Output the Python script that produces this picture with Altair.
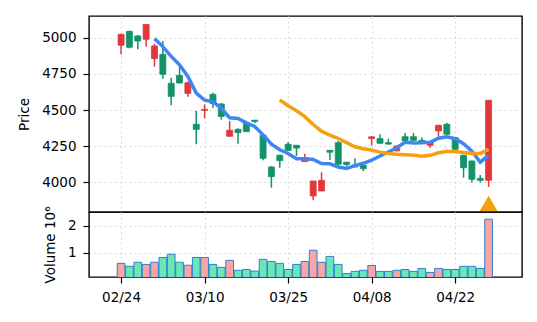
import altair as alt
import pandas as pd

dates = ["02/24", "02/25", "02/26", "02/27", "02/28", "03/03", "03/04", "03/05", "03/06", "03/07",
         "03/10", "03/11", "03/12", "03/13", "03/14", "03/17", "03/18", "03/19", "03/21", "03/24",
         "03/25", "03/26", "03/27", "03/28", "03/31", "04/01", "04/02", "04/03", "04/04", "04/07",
         "04/08", "04/09", "04/10", "04/11", "04/14", "04/15", "04/16", "04/17", "04/18", "04/21",
         "04/22", "04/23", "04/24", "04/25", "04/28"]
opens = [4948, 5044, 5012, 4989, 4856, 4885, 4685, 4740, 4616, 4402,
         4498, 4609, 4542, 4319, 4367, 4411, 4430, 4326, 4107, 4188,
         4264, 4257, 4144, 3907, 3941, 4222, 4275, 4140, 4121, 4119,
         4304, 4303, 4275, 4218, 4316, 4316, 4291, 4257, 4356, 4402,
         4310, 4188, 4148, 4029, 4015]
highs = [5028, 5048, 5019, 5095, 4959, 4977, 4724, 4805, 4696, 4494,
         4540, 4620, 4549, 4425, 4374, 4418, 4432, 4335, 4114, 4192,
         4280, 4259, 4199, 4010, 4070, 4224, 4287, 4142, 4167, 4128,
         4321, 4333, 4303, 4255, 4342, 4342, 4310, 4285, 4398, 4411,
         4312, 4192, 4152, 4052, 4570]
lows = [4885, 4927, 4920, 4938, 4800, 4717, 4533, 4685, 4593, 4264,
        4443, 4514, 4434, 4319, 4268, 4351, 4409, 4153, 3964, 4102,
        4218, 4183, 4144, 3877, 3941, 4155, 4121, 4110, 4105, 4079,
        4255, 4268, 4262, 4215, 4283, 4288, 4272, 4240, 4309, 4330,
        4225, 4033, 3999, 3999, 3969]
closes = [5023, 4934, 4977, 5092, 4943, 4747, 4595, 4687, 4689, 4367,
          4505, 4545, 4456, 4361, 4344, 4351, 4421, 4167, 4040, 4151,
          4222, 4238, 4171, 4010, 4015, 4209, 4126, 4125, 4107, 4095,
          4315, 4271, 4265, 4252, 4287, 4291, 4275, 4282, 4395, 4333,
          4229, 4102, 4022, 4015, 4568]
volumes = [600000, 490000, 640000, 560000, 640000, 820000, 940000, 640000, 530000, 820000,
           820000, 560000, 450000, 710000, 340000, 370000, 310000, 750000, 670000, 600000,
           370000, 560000, 670000, 1090000, 640000, 860000, 560000, 220000, 300000, 340000,
           520000, 300000, 300000, 340000, 370000, 300000, 410000, 260000, 410000, 370000,
           370000, 490000, 490000, 410000, 2250000]
tick_idx = [0, 10, 20, 30, 40]
price_ticks = [4000, 4250, 4500, 4750, 5000]
volume_ticks = [1000000, 2000000]
signal_idx = [44]
signal_price = [3855]

RED = "#e2373a"
GREEN = "#12936a"
PINK = "#f8a5a5"
MINT = "#6be6b6"
BLUE = "#3f86f2"
ORANGE = "#f5a00e"

df = pd.DataFrame({"idx": list(range(len(dates))), "date": dates, "open": opens,
                   "high": highs, "low": lows, "close": closes, "volume": volumes})
sig = pd.DataFrame({"idx": signal_idx, "price": signal_price})

xdom = [-3.24, 47.4]
label_expr = " : ".join(f"datum.value == {i} ? '{dates[i]}'" for i in tick_idx) + " : ''"

base = alt.Chart(df).transform_calculate(
    dir="datum.close >= datum.open ? 'up' : 'down'",
    vdir="datum.close >= datum.open ? 'vup' : 'vdown'"
)

x_price = alt.X("idx:Q", scale=alt.Scale(domain=xdom, nice=False, zero=False),
                axis=alt.Axis(values=tick_idx, labels=False, ticks=False, title=None, grid=True))
y_price = alt.Y("low:Q", scale=alt.Scale(domain=[3796, 5150], nice=False, zero=False),
                axis=alt.Axis(values=price_ticks, format="d", title="Price", grid=True))
cscale = alt.Scale(domain=["up", "down"], range=[RED, GREEN])

wicks = base.mark_rule(strokeWidth=1.5).encode(
    x=x_price, y=y_price, y2="high:Q",
    color=alt.Color("dir:N", scale=cscale, legend=None))
bodies = base.mark_bar(size=6, strokeWidth=0.8).encode(
    x="idx:Q", y="open:Q", y2="close:Q",
    color=alt.Color("dir:N", scale=cscale, legend=None),
    stroke=alt.Color("dir:N", scale=cscale, legend=None))
ma5 = alt.Chart(df).transform_window(
    ma="mean(close)", frame=[-4, 0], sort=[alt.SortField("idx")]
).transform_filter("datum.idx >= 4").mark_line(color=BLUE, strokeWidth=3.5).encode(
    x="idx:Q", y="ma:Q", order="idx:Q")
ma20 = alt.Chart(df).transform_window(
    ma="mean(close)", frame=[-19, 0], sort=[alt.SortField("idx")]
).transform_filter("datum.idx >= 19").mark_line(color=ORANGE, strokeWidth=3.5).encode(
    x="idx:Q", y="ma:Q", order="idx:Q")
marker = alt.Chart(sig).mark_point(shape="triangle-up", filled=True, size=313,
                                   color=ORANGE, opacity=1).encode(x="idx:Q", y="price:Q")

price = alt.layer(wicks, bodies, ma5, ma20, marker).properties(width=433, height=196)

vol = base.mark_bar(size=7.7, stroke="#2f7fd0", strokeWidth=1, clip=True).encode(
    x=alt.X("idx:Q", scale=alt.Scale(domain=xdom, nice=False, zero=False),
            axis=alt.Axis(values=tick_idx, labelExpr=label_expr, title=None, grid=True)),
    y=alt.Y("volume:Q", scale=alt.Scale(domain=[90000, 2520000], nice=False, zero=False),
            axis=alt.Axis(values=volume_ticks, labelExpr="format(datum.value / 1000000, 'd')",
                          title="Volume  10⁶", grid=True)),
    color=alt.Color("vdir:N", scale=alt.Scale(domain=["vup", "vdown"], range=[PINK, MINT]), legend=None),
).properties(width=433, height=65)

chart = alt.vconcat(price, vol, spacing=0, bounds="flush").resolve_scale(
    color="independent"
).configure(
    font="DejaVu Sans", padding={"left": 16, "top": 15, "right": 0, "bottom": 0},
    background="white"
).configure_view(stroke="black", strokeWidth=1.4).configure_axis(
    labelFontSize=13.5, titleFontSize=13.5, labelColor="black", titleColor="black",
    tickColor="black", tickSize=6, tickWidth=1.2, labelPadding=7, titlePadding=10,
    domain=False, gridColor="#d9d9d9", gridDash=[2, 3], gridWidth=1.1,
    titleFontWeight="normal", labelFont="DejaVu Sans", titleFont="DejaVu Sans"
)

chart.save("out.html", embed_options={"renderer": "svg", "actions": False})
